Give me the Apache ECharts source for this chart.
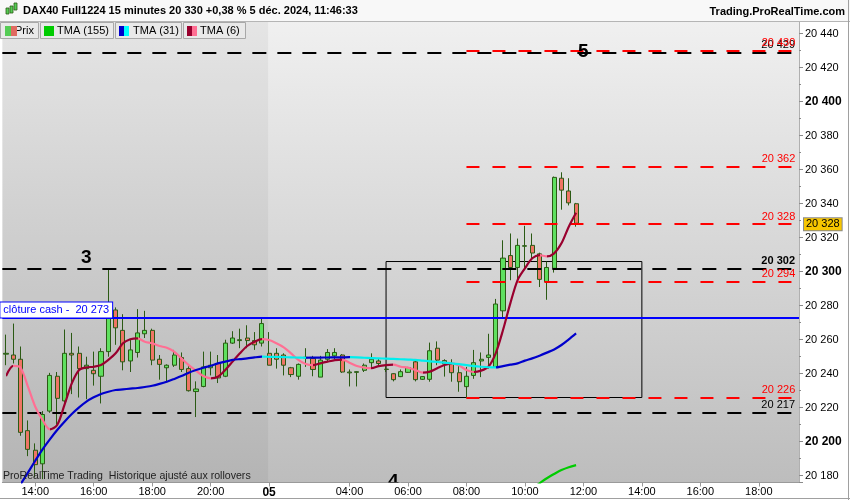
<!DOCTYPE html>
<html><head><meta charset="utf-8">
<script src="https://cdn.jsdelivr.net/npm/echarts@6/dist/echarts.min.js"></script>
<style>html,body{margin:0;padding:0;background:#fff;}#c{width:850px;height:500px;}</style>
</head><body><div id="c"></div>
<script>
// ---- categories: 15-minute slots, session 4 déc (13:00-21:45) then 5 déc (01:15-19:15)
function slots(day, h0, m0, h1, m1) {
  const out = [];
  for (let t = h0 * 60 + m0; t <= h1 * 60 + m1; t += 15) {
    const hh = String(Math.floor(t / 60)).padStart(2, '0');
    const mm = String(t % 60).padStart(2, '0');
    out.push(day + ' ' + hh + ':' + mm);
  }
  return out;
}
const categories = slots('4', 13, 0, 21, 45).concat(slots('5', 1, 15, 19, 15));

const xTickCats = ['4 14:00','4 16:00','4 18:00','4 20:00','5 01:15','5 04:00','5 06:00','5 08:00','5 10:00','5 12:00','5 14:00','5 16:00','5 18:00'];

// ---- candles (index 0 = 4 déc 13:00)
const opens  = [20251.5,20251,20248.5,20206.5,20195,20187,20218,20238.5,20224,20252,20252,20243,20242,20238.5,20253,20277.5,20265.5,20247.5,20252.5,20263.5,
  20265.5,20248.5,20243.5,20245,20249.5,20243,20229.5,20232.5,20243.5,20246,20238.5,20258,20259.5,20261,20259.5,20258,
  20252,20252,20251,20243.5,20238.5,20249.3,20249,20238,20248.5,20250.5,20251,20240.5,20240.8,20242,20246.5,20247.5,20242.5,20240,20238.3,20240.8,20247,20236.7,20236.7,20255,
  20247.7,20246,20240.6,20232.4,20239,20247.5,20249.6,20244,20277,20309.5,20302.5,20315,20315.5,20310.5,20294,20302,20355,20347.5,20340];
const closes = [20252,20248.5,20205.5,20195.5,20186.5,20216,20239,20225.5,20252,20251,20243,20245,20240,20253,20277,20267,20247,20254,20264,20265.5,
  20248,20245.5,20245,20251,20242.5,20230,20231,20244,20245,20237.5,20258,20261,20260,20259.5,20257,20269.5,
  20245,20248.5,20245,20239.5,20245.5,20249.7,20242.5,20248,20252.5,20252.5,20241,20241,20241.2,20245,20248.5,20246,20242.7,20236.5,20241.2,20243.6,20236.5,20238.3,20253.5,20248,
  20245.7,20240.6,20235.3,20238.5,20246.5,20248.5,20251,20281,20308,20302.5,20315.5,20315.3,20311,20295.5,20302.5,20355.5,20348,20340.5,20328.5];
const lows   = [20245,20246,20203.5,20191.5,20179,20178,20217,20210,20222,20228,20226,20225,20233,20222.5,20250,20257,20242,20241,20249.5,20261,
  20245,20236.5,20235.5,20244,20241,20229.5,20214.5,20232,20239,20234.5,20238,20257.5,20255,20255,20254,20256,
  20245,20243,20239,20238,20236.5,20244,20238.5,20238,20247,20248.5,20240.5,20232.5,20232.5,20241,20244,20244.5,20241,20235.5,20238,20240.5,20235.5,20236.3,20235.3,20245,
  20238.3,20235.3,20229.4,20225.5,20237,20238,20243,20243.5,20273,20295,20295,20301,20307,20291,20283.5,20299.5,20336.5,20339,20326.5];
const highs  = [20263,20269.5,20256,20212.5,20199,20218,20240.5,20241,20266,20264,20256,20250,20253,20255,20302,20279,20275,20260,20278,20277,
  20266.5,20251,20245.5,20254,20252.5,20244.5,20235.5,20253,20253,20251,20260,20265,20266.5,20268.5,20264.5,20272.5,
  20264.5,20255,20252,20244,20246,20255,20250.5,20250.5,20254.5,20255,20251.5,20242.5,20241.5,20246,20252,20249,20245,20240.3,20242.5,20244,20248.5,20238.6,20258.3,20259,
  20248.5,20248.5,20245,20244,20254,20252.5,20263.5,20284,20318.5,20322.5,20319.5,20327,20322.5,20311.2,20306,20356,20358.5,20355,20340.5];

// ---- moving averages
const tma6 = [20238.6,20244.6,20243.5,20232.4,20220.6,20212.8,20207.3,20209.8,20221.6,20234.3,20242.2,20243.7,20244.1,20245.1,20248.1,20252,20257.9,20260.3,20260.8,20258.8,
  20257.9,20256.3,20255.3,20253,20249,20245.1,20241.8,20238.6,20237.3,20238.2,20242.2,20247.1,20252,20256.3,20258.8,20260.4,
  20259.8,20257.9,20255.5,20252,20248.1,20245.7,20245,20246.1,20247.1,20248,20248.3,20246.5,20244.5,20243.6,20243.3,20244.5,20245.1,20245.3,20244.1,20243.6,20242.2,20240.6,20241.2,20243.2,
  20245.1,20246.1,20244.8,20242.2,20241,20241.8,20244.1,20252,20265.7,20281.4,20295.1,20302,20307.9,20309.8,20309,20310.8,20316.7,20326.5,20334.7];
const tma31 = [null,null,20175,20181.8,20188.8,20195.5,20201.4,20206.9,20211.8,20216.3,20220.2,20223.6,20226.1,20228.1,20229.4,20230.4,20230.8,20231.2,20231.6,20232.2,
  20232.9,20234,20235.3,20236.9,20238.6,20240.6,20242.2,20243.5,20244.7,20246.1,20247.1,20248.1,20248.6,20249,20249.6,20250,
  20249.95,20249.9,20249.8,20249.6,20249.5,20249.4,20249.45,20249.5,20249.55,20249.6,20249.65,20249.7,20249.6,20249.4,20249.2,20249,20248.9,20248.7,20248.5,20248.3,20248.1,20247.7,20247.3,20246.9,
  20246.5,20246.1,20245.6,20245,20244.5,20244.1,20243.8,20243.7,20244.5,20245.3,20246.1,20247.7,20249,20250.6,20252.4,20254.3,20256.9,20260.2,20263.7];
const tma155 = Array(71).fill(null).concat([20170,20172.5,20175.5,20178.5,20181,20183.3,20185,20186.2]);

// ---- horizontal levels
const blackLevels = [20429, 20302, 20217];
const redLevels = [20430, 20362, 20328, 20294, 20226];
const redStartCat = '5 08:00';
const cashClose = 20273;
const lastPrice = 20328;
const boxCats = ['5 05:15', '5 14:00'];
const boxRange = [20306, 20226];
const waveCats = ['4 15:45', '5 12:00', '5 05:30'];
const waveVals = [20308, 20429.4, 20176.4];
const waveText = ['3', '5', '4'];
const yBold = [20200, 20300, 20400];

const FONT = 'Liberation Sans, Arial, sans-serif';
const fmt = v => { const s = String(Math.round(v)); return s.slice(0, s.length - 3) + ' ' + s.slice(-3); };
const ci = c => categories.indexOf(c);
const lastCat = categories.length - 1;

function dirPieces(vals, up, down) {
  const pieces = [];
  const first = vals.findIndex(v => v != null);
  let start = first, dir = null, last = first;
  for (let i = first; i < vals.length - 1; i++) {
    if (vals[i + 1] == null) break;
    const d = vals[i + 1] >= vals[i] ? 1 : -1;
    if (dir === null) dir = d;
    else if (d !== dir) { pieces.push({gte: start, lt: i, color: dir > 0 ? up : down}); start = i; dir = d; }
    last = i + 1;
  }
  pieces.push({gte: start, lte: last + 1, color: dir > 0 ? up : down});
  return pieces;
}

const candleData = opens.map((o, i) => [o, closes[i], lows[i], highs[i]]);
const pair = arr => arr.map((v, i) => [i, v]);

const markLines = [];
blackLevels.forEach(v => markLines.push({
  yAxis: v,
  lineStyle: {color: '#000', width: 2, type: [14, 11]},
  label: {show: true, position: 'insideEndTop', distance: [4, 2], formatter: fmt(v), color: '#000',
    fontSize: 11, fontFamily: FONT, fontWeight: v === 20302 ? 'bold' : 'normal'}
}));
redLevels.forEach(v => markLines.push([
  {coord: [ci(redStartCat), v], lineStyle: {color: '#ff0000', width: 2, type: [13, 13]},
    label: {show: true, position: 'insideEndTop', distance: [0, 2], formatter: fmt(v), color: '#ff0000', fontSize: 11, fontFamily: FONT}},
  {coord: [lastCat, v]}
]));
markLines.push({
  yAxis: cashClose,
  lineStyle: {color: '#0000ff', width: 2, type: 'solid'},
  label: {show: true, position: 'insideStartTop', distance: [-2, 0], formatter: 'clôture cash -  ' + fmt(cashClose),
    color: '#0000ff', fontSize: 11, fontFamily: FONT, backgroundColor: '#fff', borderColor: '#0000ff', borderWidth: 1, padding: [2, 3, 2, 3]}
});
markLines.push({
  yAxis: lastPrice,
  lineStyle: {color: 'rgba(0,0,0,0)', width: 1, type: 'solid'},
  label: {show: true, position: 'end', distance: 5, formatter: fmt(lastPrice), color: '#000', fontSize: 11, fontFamily: FONT, opacity: 1,
    backgroundColor: '#f7c600', borderColor: '#8a8a8a', borderWidth: 1, padding: [1, 2, 0, 2]}
});

const option = {
  animation: false,
  grid: {left: 2.35, right: 51, top: 21, bottom: 17.5, show: true, borderWidth: 0,
    backgroundColor: new echarts.graphic.LinearGradient(0, 0, 0, 1, [{offset: 0, color: '#f0f0f0'}, {offset: 1, color: '#bdbdbd'}])},
  xAxis: {
    type: 'category', data: categories, boundaryGap: true,
    axisLine: {show: true, lineStyle: {color: '#9a9a9a'}},
    axisTick: {show: true, alignWithLabel: true, length: 4, lineStyle: {color: '#9a9a9a'}, interval: (i, v) => xTickCats.includes(v)},
    axisLabel: {interval: (i, v) => xTickCats.includes(v), margin: 4, color: '#000', fontSize: 11, fontFamily: FONT,
      formatter: v => v === '5 01:15' ? '{b|05}' : v.split(' ')[1], rich: {b: {fontWeight: 'bold', fontSize: 12, fontFamily: FONT, color: '#000'}}},
    splitLine: {show: false}
  },
  yAxis: {
    type: 'value', position: 'right', min: 20176, max: 20447.5, minInterval: 20, maxInterval: 20, scale: true,
    axisLine: {show: true, lineStyle: {color: '#b0b0b0'}},
    axisTick: {show: true, length: 4, lineStyle: {color: '#8a8a8a'}},
    minorTick: {show: true, splitNumber: 2, length: 2, lineStyle: {color: '#8a8a8a'}},
    splitLine: {show: false}, minorSplitLine: {show: false},
    axisLabel: {margin: 6, color: '#000', fontSize: 11, fontFamily: FONT,
      formatter: v => (Math.abs(v % 20) > 0.01) ? '' : (yBold.includes(v) ? '{b|' + fmt(v) + '}' : fmt(v)),
      rich: {b: {fontWeight: 'bold', fontSize: 12, fontFamily: FONT, color: '#000'}}}
  },
  visualMap: [
    {type: 'piecewise', show: false, seriesIndex: 2, dimension: 0, pieces: dirPieces(tma6, '#99002e', '#ff6f93')},
    {type: 'piecewise', show: false, seriesIndex: 3, dimension: 0, pieces: dirPieces(tma31, '#0000cc', '#00eeee')}
  ],
  series: [
    {
      type: 'custom', name: 'veille', clip: true, silent: true, z: 1,
      data: [[0, ci('5 01:15')]],
      renderItem: (params, api) => {
        const cs = params.coordSys;
        const x1 = api.coord([api.value(1), 20300])[0];
        return {type: 'rect', shape: {x: cs.x, y: cs.y, width: x1 - cs.x - 1, height: cs.height}, style: {fill: 'rgba(0,0,0,0.045)'}};
      }
    },
    {
      type: 'candlestick', name: 'Prix', data: candleData, barWidth: 4.6, z: 3,
      itemStyle: {color: '#5fe05f', color0: '#ef7565', borderColor: '#2b5a14', borderColor0: '#2b5a14', borderWidth: 1},
      markLine: {silent: true, symbol: ['none', 'none'], animation: false, data: markLines},
      markArea: {silent: true, data: [[{coord: [ci(boxCats[0]), boxRange[0]]}, {coord: [ci(boxCats[1]), boxRange[1]]}]],
        itemStyle: {color: 'rgba(0,0,0,0)', borderColor: '#000', borderWidth: 1}}
    },
    {type: 'line', name: 'TMA (6)', data: pair(tma6), symbol: 'none', smooth: 0.3, z: 5, lineStyle: {width: 2.2}},
    {type: 'line', name: 'TMA (31)', data: pair(tma31), symbol: 'none', smooth: 0.3, z: 5, lineStyle: {width: 2.2}},
    {type: 'line', name: 'TMA (155)', data: pair(tma155), symbol: 'none', smooth: 0.3, z: 5, lineStyle: {width: 2.2, color: '#00cc00'}, itemStyle: {color: '#00cc00'}},
    {
      type: 'custom', name: 'vagues', clip: true, silent: true, z: 6,
      data: waveCats.map((c, i) => [ci(c), waveVals[i]]),
      renderItem: (params, api) => {
        const p = api.coord([api.value(0), api.value(1)]);
        return {type: 'text', x: p[0], y: p[1], style: {text: waveText[params.dataIndex], font: 'bold 19px ' + FONT, fill: '#000', align: 'center', verticalAlign: 'middle'}};
      }
    }
  ],
  graphic: [
    {type: 'rect', z: 50, shape: {x: 0, y: 0, width: 850, height: 21}, style: {fill: '#f8f8f8'}},
    {type: 'line', z: 51, shape: {x1: 0, y1: 21.5, x2: 850, y2: 21.5}, style: {stroke: '#b5b5b5', lineWidth: 1}},
    // header icon
    {type: 'rect', z: 52, shape: {x: 6, y: 8, width: 3, height: 6}, style: {fill: '#55cc55', stroke: '#2b5a14', lineWidth: 0.8}},
    {type: 'rect', z: 52, shape: {x: 10, y: 6, width: 3, height: 7}, style: {fill: '#55cc55', stroke: '#2b5a14', lineWidth: 0.8}},
    {type: 'rect', z: 52, shape: {x: 14, y: 3, width: 3, height: 7}, style: {fill: '#55cc55', stroke: '#2b5a14', lineWidth: 0.8}},
    {type: 'text', z: 52, style: {x: 23, y: 11, text: 'DAX40 Full1224 15 minutes 20 330 +0,38 % 5 déc. 2024, 11:46:33', font: 'bold 11px ' + FONT, fill: '#000', verticalAlign: 'middle'}},
    {type: 'text', z: 52, style: {x: 845, y: 12, text: 'Trading.ProRealTime.com', font: 'bold 11px ' + FONT, fill: '#000', align: 'right', verticalAlign: 'middle'}},
    // legend buttons
    {type: 'rect', z: 52, shape: {x: 0.5, y: 22.5, width: 38, height: 16}, style: {fill: '#e9e9e9', stroke: '#a8a8a8', lineWidth: 1}},
    {type: 'rect', z: 52, shape: {x: 40.5, y: 22.5, width: 73, height: 16}, style: {fill: '#e9e9e9', stroke: '#a8a8a8', lineWidth: 1}},
    {type: 'rect', z: 52, shape: {x: 115.5, y: 22.5, width: 66, height: 16}, style: {fill: '#e9e9e9', stroke: '#a8a8a8', lineWidth: 1}},
    {type: 'rect', z: 52, shape: {x: 183.5, y: 22.5, width: 62, height: 16}, style: {fill: '#e9e9e9', stroke: '#a8a8a8', lineWidth: 1}},
    {type: 'text', z: 53, style: {x: 15, y: 31, text: 'Prix', font: '11px ' + FONT, fill: '#000', verticalAlign: 'middle'}},
    {type: 'rect', z: 54, shape: {x: 5, y: 26, width: 6, height: 10}, style: {fill: '#55cc55'}},
    {type: 'rect', z: 54, shape: {x: 11, y: 26, width: 6, height: 10}, style: {fill: '#e06a60'}},
    {type: 'rect', z: 54, shape: {x: 44, y: 26, width: 10, height: 10}, style: {fill: '#00cc00'}},
    {type: 'text', z: 53, style: {x: 57, y: 31, text: 'TMA (155)', font: '11px ' + FONT, fill: '#000', verticalAlign: 'middle'}},
    {type: 'rect', z: 54, shape: {x: 119, y: 26, width: 5, height: 10}, style: {fill: '#0000cc'}},
    {type: 'rect', z: 54, shape: {x: 124, y: 26, width: 5, height: 10}, style: {fill: '#00ffff'}},
    {type: 'text', z: 53, style: {x: 133, y: 31, text: 'TMA (31)', font: '11px ' + FONT, fill: '#000', verticalAlign: 'middle'}},
    {type: 'rect', z: 54, shape: {x: 187, y: 26, width: 5, height: 10}, style: {fill: '#99002e'}},
    {type: 'rect', z: 54, shape: {x: 192, y: 26, width: 5, height: 10}, style: {fill: '#ff6f93'}},
    {type: 'text', z: 53, style: {x: 200, y: 31, text: 'TMA (6)', font: '11px ' + FONT, fill: '#000', verticalAlign: 'middle'}},
    {type: 'text', z: 60, style: {x: 3, y: 476, text: 'ProRealTime Trading  Historique ajusté aux rollovers', font: '10.6px ' + FONT, fill: '#222', verticalAlign: 'middle'}},
    {type: 'line', z: 60, shape: {x1: 848.5, y1: 0, x2: 848.5, y2: 500}, style: {stroke: '#a0a0a0', lineWidth: 1}},
    {type: 'line', z: 60, shape: {x1: 0, y1: 498.5, x2: 850, y2: 498.5}, style: {stroke: '#a0a0a0', lineWidth: 1}}
  ]
};
const chart = echarts.init(document.getElementById('c'));
chart.setOption(option);
</script></body></html>
